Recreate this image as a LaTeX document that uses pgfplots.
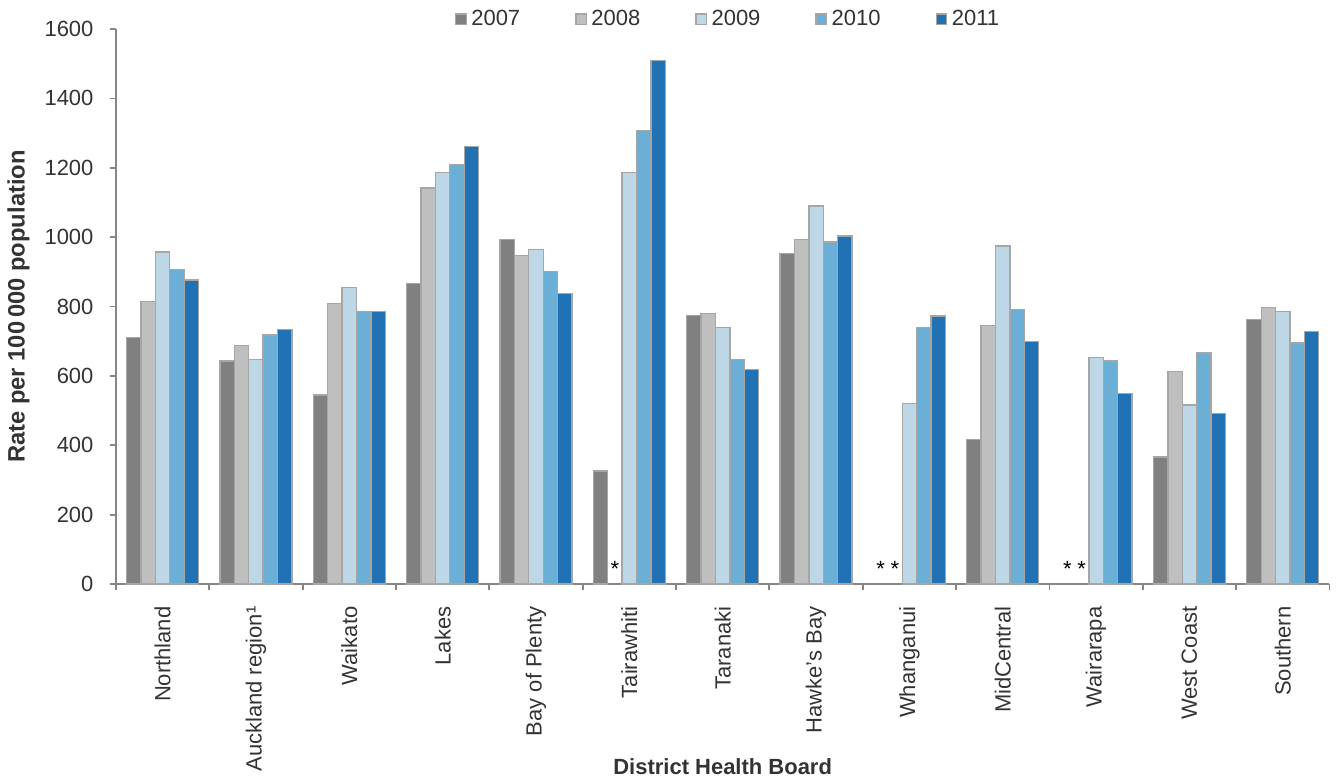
\documentclass[border=0pt]{standalone}
\usepackage{fontspec}
\setmainfont{Liberation Sans}
\usepackage{pgfplots}
\pgfplotsset{compat=1.18}

\definecolor{c07}{HTML}{808080}
\definecolor{c08}{HTML}{BFBFBF}
\definecolor{c09}{HTML}{BDD7E7}
\definecolor{c10}{HTML}{6BAED6}
\definecolor{c11}{HTML}{2171B5}
\definecolor{edge}{HTML}{A6A6A6}
\definecolor{axisgray}{HTML}{868686}
\definecolor{txt}{HTML}{333333}

\begin{document}
\begin{tikzpicture}
\begin{axis}[
  scale only axis, width=552pt, height=252.5pt,
  ybar=0pt, bar width=0.154,
  xmin=-0.5, xmax=12.5, ymin=0, ymax=1600,
  ytick={0,200,...,1600},
  xtick={0,...,12},
  xticklabels={Northland, Auckland region¹, Waikato, Lakes, Bay of Plenty, Tairawhiti, Taranaki, Hawke's Bay, Whanganui, MidCentral, Wairarapa, West Coast, Southern},
  minor xtick={-0.5,0.5,...,12.5},
  axis x line*=bottom, axis y line*=left,
  axis line style={draw=axisgray, line width=0.8pt},
  tick style={draw=axisgray, line width=0.8pt},
  major x tick style={draw=none},
  tick align=outside,
  major tick length=2.7pt, minor tick length=2.7pt,
  /pgf/number format/assume math mode=true,
  /pgf/number format/1000 sep={},
  ticklabel style={font=\fontsize{10}{12}\selectfont, text=txt},
  yticklabel style={xshift=-4pt},
  xticklabel style={rotate=90, anchor=east},
  xticklabel shift=4pt,
  ylabel={\bfseries Rate per 100\,000 population},
  ylabel style={font=\fontsize{10.8}{13}\selectfont, text=txt},
  xlabel={\bfseries District Health Board},
  xlabel style={font=\fontsize{10}{12}\selectfont, text=txt,
    at={(axis description cs:0.5,0)}, anchor=center, yshift=-83pt},
  legend style={draw=none, at={(0.5,1)}, anchor=center, yshift=4.5pt, xshift=3pt,
    font=\fontsize{10}{12}\selectfont, text=txt, inner sep=0pt,
    legend columns=5,
    /tikz/every odd column/.append style={column sep=0pt},
    /tikz/every even column/.append style={column sep=23pt}},
  legend image code/.code={\draw[#1, draw=edge, line width=0.6pt] (0pt,-2.4pt) rectangle (4.8pt,2.4pt);},
  every axis plot/.append style={draw=edge, line width=0.6pt},
]
\addplot[fill=c07] coordinates {(0,711)(1,643)(2,545)(3,866)(4,993)(5,326)(6,775)(7,952)(9,417)(11,366)(12,763)};
\addplot[fill=c08] coordinates {(0,815)(1,688)(2,809)(3,1142)(4,947)(6,780)(7,993)(9,746)(11,613)(12,797)};
\addplot[fill=c09] coordinates {(0,957)(1,648)(2,854)(3,1187)(4,964)(5,1187)(6,740)(7,1090)(8,521)(9,975)(10,654)(11,516)(12,785)};
\addplot[fill=c10] coordinates {(0,906)(1,718)(2,785)(3,1210)(4,901)(5,1308)(6,648)(7,986)(8,739)(9,792)(10,643)(11,666)(12,695)};
\addplot[fill=c11] coordinates {(0,877)(1,733)(2,785)(3,1262)(4,837)(5,1509)(6,619)(7,1003)(8,773)(9,699)(10,549)(11,492)(12,728)};
\legend{2007,2008,2009,2010,2011}
% suppressed values (*)
\addplot[sharp plot, only marks, mark=text, text mark={\fontsize{10}{10}\selectfont *}, forget plot, draw=none, fill=black]
  coordinates {(4.846,45)(7.692,45)(7.846,45)(9.692,45)(9.846,45)};
\end{axis}
% white margins above and to the right of the plot area
\path (current axis.north east) ++(3pt,13.2pt);
\end{tikzpicture}
\end{document}
